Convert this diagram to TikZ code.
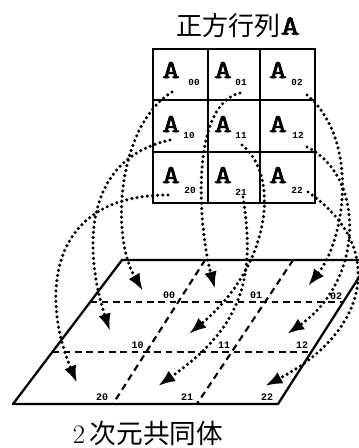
\documentclass[tikz,border=0pt]{standalone}
\usepackage{fontspec}
\newfontfamily\cjkfont{Noto Sans CJK JP}
\newfontfamily\monofont{Liberation Mono}
\newfontfamily\slabfont[FakeBold=2.2]{lmmono10-regular.otf}
\usetikzlibrary{arrows.meta,calc}

\begin{document}
\begin{tikzpicture}[x=0.75pt,y=-0.75pt,
  cellrule/.style={line width=1.6pt},
  planerule/.style={line width=1.7pt, line join=round},
  gridrule/.style={line width=1.6pt, dash pattern=on 5pt off 3.5pt},
  entry/.style={inner sep=0pt, xscale=1.3, font=\slabfont\fontsize{19.5}{19.5}\selectfont},
  idx/.style={inner sep=0pt, font=\monofont\bfseries\fontsize{7}{7}\selectfont},
  celllabel/.style={inner sep=0pt, font=\monofont\bfseries\fontsize{7.5}{7.5}\selectfont},
  mapping/.style={line width=2.6pt, dash pattern=on 0pt off 3.9pt, line cap=round,
                  -{Latex[length=13pt,width=9.5pt]}},
]
\useasboundingbox (0,0) rectangle (358,448);

% ---- title of the matrix
\node[inner sep=0pt] (title) at (228,26)
  {\cjkfont\fontsize{19.5}{19.5}\selectfont 正方行列};
\node[inner sep=0pt, xscale=1.3, anchor=west] (titleA) at (title.east)
  {\slabfont\fontsize{21}{21}\selectfont A};

% ---- the 3x3 matrix
\draw[cellrule] (153,49) rectangle (315,203);
\draw[cellrule] (208,49) -- (208,203);
\draw[cellrule] (260,49) -- (260,203);
\draw[cellrule] (153,100) -- (315,100);
\draw[cellrule] (153,152) -- (315,152);

\node[entry] (a00) at (171,70) {A};  \node[idx] (i00) at (194,82) {00};
\node[entry] (a01) at (223,70) {A};  \node[idx] (i01) at (241,82) {01};
\node[entry] (a02) at (278,70) {A};  \node[idx] (i02) at (297,82) {02};
\node[entry] (a10) at (171,124) {A}; \node[idx] (i10) at (189,135) {10};
\node[entry] (a11) at (223,124) {A}; \node[idx] (i11) at (241,135) {11};
\node[entry] (a12) at (278,124) {A}; \node[idx] (i12) at (298,135) {12};
\node[entry] (a20) at (171,175) {A}; \node[idx] (i20) at (190,190) {20};
\node[entry] (a21) at (223,175) {A}; \node[idx] (i21) at (241,192) {21};
\node[entry] (a22) at (278,175) {A}; \node[idx] (i22) at (297,190) {22};

% ---- the 2D communicator plane
\coordinate (p1) at (122,260);
\coordinate (p2) at (370,260);
\coordinate (p3) at (278,404);
\coordinate (p4) at (13,404);
\draw[planerule] (p1) -- (p2) -- (p3) -- (p4) -- cycle;
\draw[gridrule] ($(p1)!0.29!(p4)$) -- ($(p2)!0.29!(p3)$);
\draw[gridrule] ($(p1)!0.64!(p4)$) -- ($(p2)!0.64!(p3)$);
\draw[gridrule] ($(p1)!0.335!(p2)$) -- ($(p4)!0.377!(p3)$);
\draw[gridrule] ($(p1)!0.69!(p2)$) -- ($(p4)!0.694!(p3)$);

\node[celllabel] (c00) at (169,295) {00};
\node[celllabel] (c01) at (256,295) {01};
\node[celllabel] (c02) at (336,296) {02};
\node[celllabel] (c10) at (137.5,345) {10};
\node[celllabel] (c11) at (224,345) {11};
\node[celllabel] (c12) at (302,345) {12};
\node[celllabel] (c20) at (102,397) {20};
\node[celllabel] (c21) at (187,397) {21};
\node[celllabel] (c22) at (267,397) {22};

% ---- start points in the matrix cells and targets in the plane
\coordinate (s00) at (172,92);  \coordinate (t00) at (143,291);
\coordinate (s01) at (240,93);  \coordinate (t01) at (215,289);
\coordinate (s02) at (307,95);  \coordinate (t02) at (308,286);
\coordinate (s10) at (170,140); \coordinate (t10) at (110,331);
\coordinate (s11) at (242,145); \coordinate (t11) at (189,334);
\coordinate (s12) at (307,147); \coordinate (t12) at (287,334);
\coordinate (s20) at (168,195); \coordinate (t20) at (77,383);
\coordinate (s21) at (243,197); \coordinate (t21) at (158,386);
\coordinate (s22) at (308,192); \coordinate (t22) at (265,386);

% ---- mapping of each block onto its process
\draw[mapping] (s00) .. controls (118,125) and (110,235) .. (t00);
\draw[mapping] (s10) .. controls (80,160) and (85,255) .. (t10);
\draw[mapping] (s20) .. controls (45,195) and (42,300) .. (t20);
\draw[mapping] (s01) .. controls (190,105) and (198,225) .. (t01);
\draw[mapping] (s11) .. controls (280,175) and (272,265) .. (t11);
\draw[mapping] (s21) .. controls (255,275) and (245,325) .. (t21);
\draw[mapping] (s02) .. controls (360,140) and (345,240) .. (t02);
\draw[mapping] (s12) .. controls (365,175) and (365,280) .. (t12);
\draw[mapping] (s22) .. controls (385,245) and (372,330) .. (t22);

% ---- caption of the plane
\node[inner sep=0pt] (caption) at (148,433)
  {\fontsize{20}{20}\selectfont 2\,\cjkfont 次元共同体};
\end{tikzpicture}
\end{document}
